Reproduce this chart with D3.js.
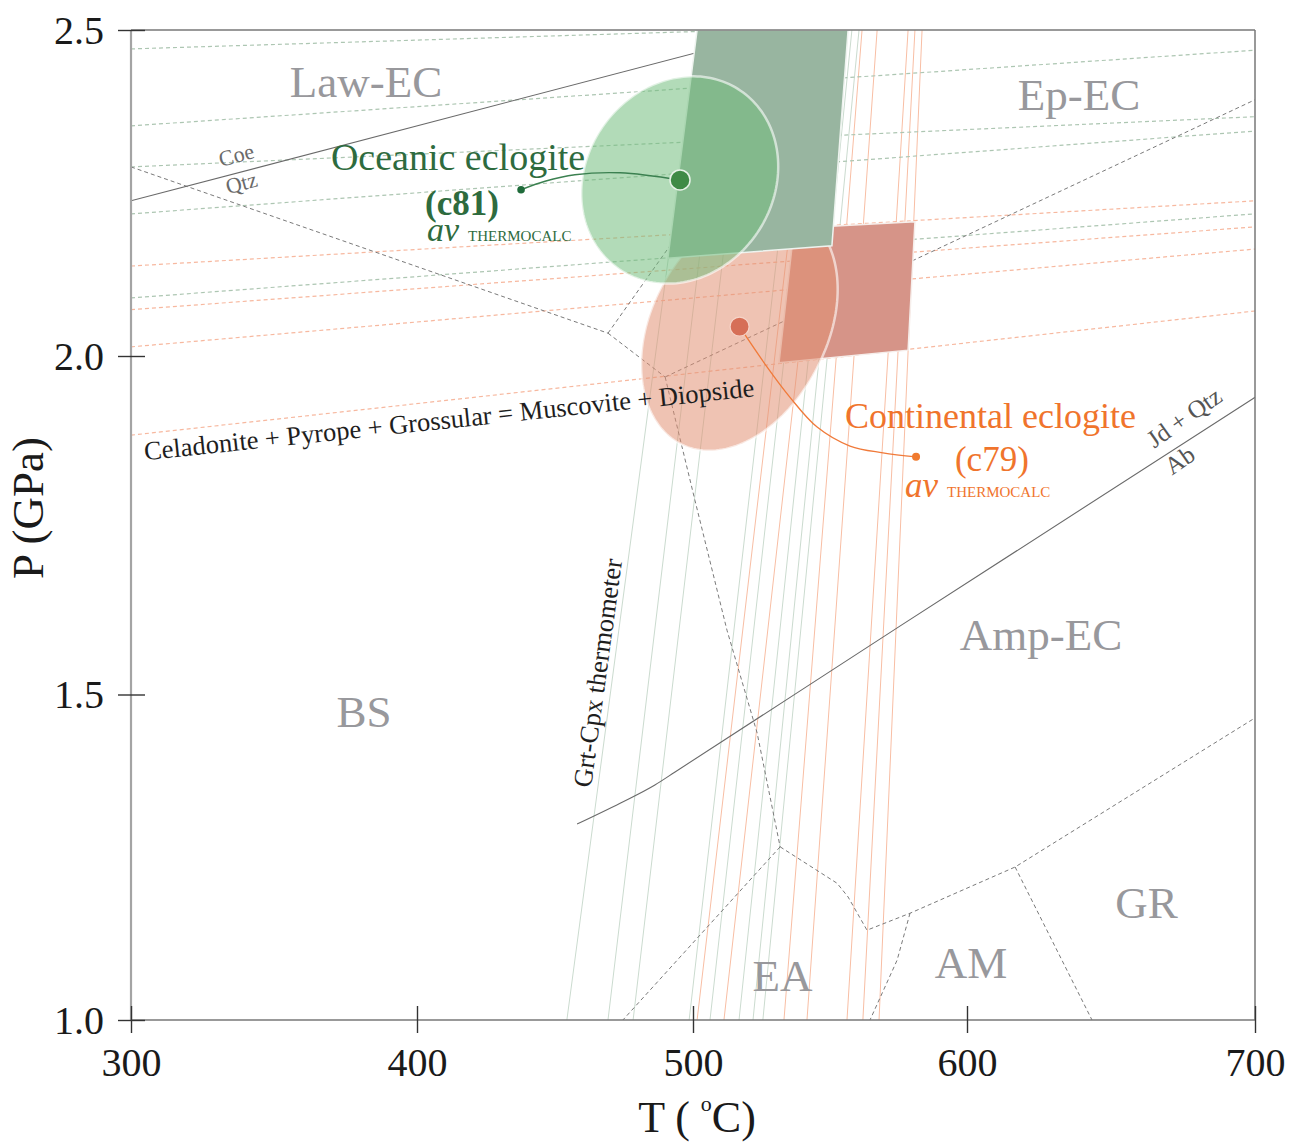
<!DOCTYPE html>
<html>
<head>
<meta charset="utf-8">
<script src="https://cdn.jsdelivr.net/npm/d3@7"></script>
<style>
  html, body { margin: 0; padding: 0; background: #fff; }
  svg text { font-family: "Liberation Serif", "Times New Roman", serif; }
</style>
</head>
<body>
<svg id="chart" width="1299" height="1144"></svg>
<script>
// ---- axis ticks -------------------------------------------------------
const tTicks = [300, 400, 500, 600, 700];        // T (°C)
const pTicks = [1.0, 1.5, 2.0, 2.5];             // P (GPa)

// ---- av THERMOCALC equilibria, [T, P] at the two plot edges ------------
const greenReactions = [
  [[300, 2.471], [700, 2.524]],
  [[300, 2.353], [700, 2.469]],
  [[300, 2.290], [700, 2.367]],
  [[300, 2.218], [700, 2.345]],
  [[300, 2.089], [700, 2.218]]
];
const orangeReactions = [
  [[300, 2.138], [700, 2.238]],
  [[300, 2.071], [700, 2.198]],
  [[300, 2.014], [700, 2.164]]
];
// Celadonite + Pyrope + Grossular = Muscovite + Diopside
const phengiteReaction = [[300, 1.883], [700, 2.069]];

// ---- Grt-Cpx thermometer isopleths: T at 1.0 GPa and at 2.5 GPa --------
const greenIsopleths = [
  [454.3, 502.1], [469.2, 512.3], [478.3, 520.7], [498.6, 540.1],
  [506.2, 546.7], [516.8, 554.7], [521.9, 558.0], [525.5, 560.6]
];
const orangeIsopleths = [
  [501.5, 543.8], [511.3, 551.9], [533.2, 561.7], [541.6, 567.2],
  [556.2, 578.5], [562.0, 581.0], [567.9, 583.6]
];

// ---- metamorphic facies boundaries (dashed) ----------------------------
const faciesBoundaries = [
  [[300, 2.290], [469.2, 2.035]],
  [[469.2, 2.035], [547.4, 2.5]],
  [[469.2, 2.035], [489.9, 1.969]],
  [[489.9, 1.969], [700, 2.393]],
  [[489.9, 1.969], [500.7, 1.787], [512.4, 1.595], [523.4, 1.441], [531.8, 1.266]],
  [[531.8, 1.266], [474.6, 1.0]],
  [[531.8, 1.266], [552.6, 1.210], [556.6, 1.189], [563.5, 1.138], [579.2, 1.164], [616.7, 1.235], [700, 1.464]],
  [[579.2, 1.164], [574.5, 1.092], [564.6, 1.0]],
  [[616.7, 1.235], [643.4, 1.0]]
];

// ---- solid reaction curves ---------------------------------------------
const coeQtz = [[300, 2.238], [532.8, 2.5]];
const jdQtzAb = [[458.0, 1.301], [473.6, 1.333], [486.2, 1.361], [493.5, 1.381], [575.5, 1.601], [700, 1.939]];

// ---- thermometer x barometer windows -----------------------------------
const oceanicWindow = [[501.5, 2.5], [556.6, 2.5], [550.7, 2.169], [490.9, 2.150]];
const continentalWindow = [[536.9, 2.196], [581.0, 2.206], [578.5, 2.009], [531.4, 1.990]];

// ---- av PT results (T, sd T, P, sd P, correlation) ---------------------
const avSamples = ["c81", "c79"];
const avT   = [495.3, 517.0];
const avSdT = [35.8, 35.8];
const avP   = [2.270, 2.045];
const avSdP = [0.159, 0.185];
const avCor = [0.13, 0.31];

// ---- facies field names --------------------------------------------------
const faciesNames = ["Law-EC", "Ep-EC", "Amp-EC", "BS", "EA", "AM", "GR"];
const faciesT = [382.2, 638.9, 625.7, 381.5, 532.7, 601.4, 662.3];
const faciesP = [2.397, 2.377, 1.566, 1.450, 1.045, 1.065, 1.157];

// ---------------------------------------------------------------------------
const svg = d3.select("#chart");
const x = d3.scaleLinear().domain(tTicks).range([131, 417, 693, 967, 1255]);
const y = d3.scaleLinear().domain(pTicks).range([1020, 694.5, 356, 30]);

const line = d3.line().x(d => x(d[0])).y(d => y(d[1]));
const smooth = d3.line().x(d => x(d[0])).y(d => y(d[1])).curve(d3.curveCatmullRom);

const x0 = x(300), x1 = x(700), yTop = y(2.5), yBot = y(1.0);

svg.append("defs").append("clipPath").attr("id", "plotClip")
  .append("rect").attr("x", x0).attr("y", yTop).attr("width", x1 - x0).attr("height", yBot - yTop);

const plot = svg.append("g").attr("clip-path", "url(#plotClip)");

// isopleths
const isoG = plot.append("g").attr("fill", "none").attr("stroke-width", 1);
isoG.selectAll("line.g").data(greenIsopleths).join("line").attr("class", "g")
  .attr("x1", d => x(d[0])).attr("y1", y(1.0)).attr("x2", d => x(d[1])).attr("y2", y(2.5))
  .attr("stroke", "#cbdbcf");
isoG.selectAll("line.o").data(orangeIsopleths).join("line").attr("class", "o")
  .attr("x1", d => x(d[0])).attr("y1", y(1.0)).attr("x2", d => x(d[1])).attr("y2", y(2.5))
  .attr("stroke", "#f8bea4");

// av equilibria
const eq = plot.append("g").attr("fill", "none").attr("stroke-width", 1.2).attr("stroke-dasharray", "4,3");
eq.selectAll("path.g").data(greenReactions).join("path").attr("class", "g")
  .attr("d", line).attr("stroke", "#adc6b2");
eq.selectAll("path.o").data(orangeReactions.concat([phengiteReaction])).join("path").attr("class", "o")
  .attr("d", line).attr("stroke", "#f7b89f");

// facies boundaries
plot.append("g").attr("fill", "none").attr("stroke", "#7a7a7a").attr("stroke-width", 1)
  .attr("stroke-dasharray", "4,3")
  .selectAll("path").data(faciesBoundaries).join("path").attr("d", line);

// solid reactions
plot.append("path").datum(coeQtz).attr("d", line).attr("fill", "none").attr("stroke", "#6a6a6a").attr("stroke-width", 1.1);
plot.append("path").datum(jdQtzAb).attr("d", d3.line().x(d => x(d[0])).y(d => y(d[1])).curve(d3.curveMonotoneX))
  .attr("fill", "none").attr("stroke", "#6a6a6a").attr("stroke-width", 1.1);

// error ellipse of an av PT result, traced in T-P space
function ellipse(i) {
  const pts = d3.range(0, 2 * Math.PI, Math.PI / 90).map(t => [
    avT[i] + avSdT[i] * Math.cos(t),
    avP[i] + avSdP[i] * (avCor[i] * Math.cos(t) + Math.sqrt(1 - avCor[i] * avCor[i]) * Math.sin(t))
  ]);
  return d3.line().x(d => x(d[0])).y(d => y(d[1])).curve(d3.curveLinearClosed)(pts);
}

// continental window, its ellipse, then the oceanic window and ellipse
plot.append("path").datum(continentalWindow).attr("d", d => line(d) + "Z")
  .attr("fill", "#d69488").attr("stroke", "#f6eeeb").attr("stroke-width", 1.5);
plot.append("path").attr("d", ellipse(1))
  .attr("fill", "rgb(226,144,115)").attr("fill-opacity", 0.54)
  .attr("stroke", "#fff").attr("stroke-opacity", 0.6).attr("stroke-width", 2.5);
plot.append("path").datum(oceanicWindow).attr("d", d => line(d) + "Z")
  .attr("fill", "#98b5a0").attr("stroke", "#eef3ef").attr("stroke-width", 1.5);
plot.append("path").attr("d", ellipse(0))
  .attr("fill", "rgb(113,189,124)").attr("fill-opacity", 0.54)
  .attr("stroke", "#fff").attr("stroke-opacity", 0.6).attr("stroke-width", 2.5);

// ---- frame -----------------------------------------------------------------
svg.append("line").attr("x1", x0).attr("x2", x1).attr("y1", yTop).attr("y2", yTop).attr("stroke", "#777").attr("stroke-width", 1.5);
svg.append("line").attr("x1", x1).attr("x2", x1).attr("y1", yTop).attr("y2", yBot).attr("stroke", "#777").attr("stroke-width", 1.5);
svg.append("line").attr("x1", x0).attr("x2", x1).attr("y1", yBot).attr("y2", yBot).attr("stroke", "#777").attr("stroke-width", 1.5);
svg.append("line").attr("x1", x0).attr("x2", x0).attr("y1", yTop).attr("y2", yBot).attr("stroke", "#a4a4a4").attr("stroke-width", 2.2);

// ---- axes ------------------------------------------------------------------
const gx = svg.append("g").attr("transform", `translate(0,${yBot})`)
  .call(d3.axisBottom(x).tickValues(tTicks).tickFormat(d3.format("d")).tickSize(13));
gx.attr("font-family", null).attr("font-size", null);
gx.select(".domain").remove();
gx.selectAll(".tick line").attr("y1", -14).attr("y2", 13).attr("stroke", "#333").attr("stroke-width", 1.4);
gx.selectAll(".tick text").attr("y", 56).attr("dy", null)
  .attr("font-size", 40).attr("fill", "#1a1a1a");

const gy = svg.append("g").attr("transform", `translate(${x0},0)`)
  .call(d3.axisLeft(y).tickValues(pTicks).tickFormat(d3.format(".1f")).tickSize(13));
gy.attr("font-family", null).attr("font-size", null);
gy.select(".domain").remove();
gy.selectAll(".tick line").attr("x1", 14).attr("x2", -13).attr("stroke", "#333").attr("stroke-width", 1.4);
gy.selectAll(".tick text").attr("x", -27).attr("y", 13).attr("dy", null)
  .attr("font-size", 40).attr("fill", "#1a1a1a");

// axis titles
const tt = svg.append("text").attr("x", 697).attr("y", 1132).attr("text-anchor", "middle")
  .attr("font-size", 44).attr("fill", "#1a1a1a");
tt.append("tspan").text("T ( ");
tt.append("tspan").attr("font-size", 22).attr("dy", -21).text("o");
tt.append("tspan").attr("dy", 21).text("C)");

svg.append("text").attr("transform", "translate(43,508) rotate(-90)")
  .attr("text-anchor", "middle").attr("font-size", 45).attr("fill", "#1a1a1a").text("P (GPa)");

// ---- facies names ----------------------------------------------------------
svg.append("g").selectAll("text").data(faciesNames).join("text")
  .attr("x", (d, i) => x(faciesT[i])).attr("y", (d, i) => y(faciesP[i]))
  .attr("text-anchor", "middle").attr("font-size", 45).attr("fill", "#98989c")
  .text(d => d);

// ---- reaction labels -------------------------------------------------------
function rotated(T, P, angle, txt, size, color) {
  return svg.append("text")
    .attr("transform", `translate(${x(T)},${y(P)}) rotate(${angle})`)
    .attr("font-size", size).attr("fill", color).text(txt);
}
rotated(304.9, 1.846, -6, "Celadonite + Pyrope + Grossular = Muscovite + Diopside", 26.5, "#1e1e1e");
rotated(331.5, 2.290, -15, "Coe", 22, "#6a6a6a");
rotated(333.9, 2.248, -15, "Qtz", 22, "#6a6a6a");
rotated(665.0, 1.863, -35, "Jd + Qtz", 25, "#555");
rotated(671.2, 1.823, -35, "Ab", 25, "#555");
rotated(463.0, 1.356, -82.2, "Grt-Cpx thermometer", 26.5, "#1e1e1e");

// ---- sample annotations ----------------------------------------------------
const green = "#2e6b3e", orange = "#f0742c";

const greenLeader = [[avT[0], avP[0]], [473.6, 2.281], [457.2, 2.278], [446.4, 2.268], [437.7, 2.255]];
const orangeLeader = [[avT[1], avP[1]], [527.0, 1.984], [535.4, 1.939], [545.3, 1.895], [557.3, 1.867], [569.3, 1.857], [581.4, 1.851]];

svg.append("path").attr("d", smooth(greenLeader)).attr("fill", "none").attr("stroke", "#3b8050").attr("stroke-width", 1.4);
svg.append("circle").attr("cx", x(437.7)).attr("cy", y(2.255)).attr("r", 3.8).attr("fill", "#1f6b3a");
svg.append("path").attr("d", smooth(orangeLeader)).attr("fill", "none").attr("stroke", "#f07a3a").attr("stroke-width", 1.3);
svg.append("circle").attr("cx", x(581.4)).attr("cy", y(1.851)).attr("r", 4).attr("fill", "#f07a2e");

svg.append("circle").attr("cx", x(avT[0])).attr("cy", y(avP[0])).attr("r", 10)
  .attr("fill", "#3f8a46").attr("stroke", "#e8f2e8").attr("stroke-width", 1.5);
svg.append("circle").attr("cx", x(avT[1])).attr("cy", y(avP[1])).attr("r", 9.5)
  .attr("fill", "#d66f57").attr("stroke", "#f6d4c8").attr("stroke-width", 1.2);

function label(T, P, txt, size, color, opts = {}) {
  const t = svg.append("text").attr("x", x(T)).attr("y", y(P)).attr("font-size", size).attr("fill", color).text(txt);
  if (opts.bold) t.attr("font-weight", "bold");
  if (opts.italic) t.attr("font-style", "italic");
  return t;
}
label(369.9, 2.285, "Oceanic eclogite", 38, green);
label(402.9, 2.217, `(${avSamples[0]})`, 35, green, { bold: true });
label(403.6, 2.176, "av", 34, green, { italic: true });
label(418.5, 2.176, "THERMOCALC", 15, green);

label(555.5, 1.894, "Continental eclogite", 36, orange);
label(595.6, 1.830, `(${avSamples[1]})`, 35, orange);
label(577.4, 1.792, "av", 35, orange, { italic: true });
label(592.7, 1.792, "THERMOCALC", 15, orange);
</script>
</body>
</html>
